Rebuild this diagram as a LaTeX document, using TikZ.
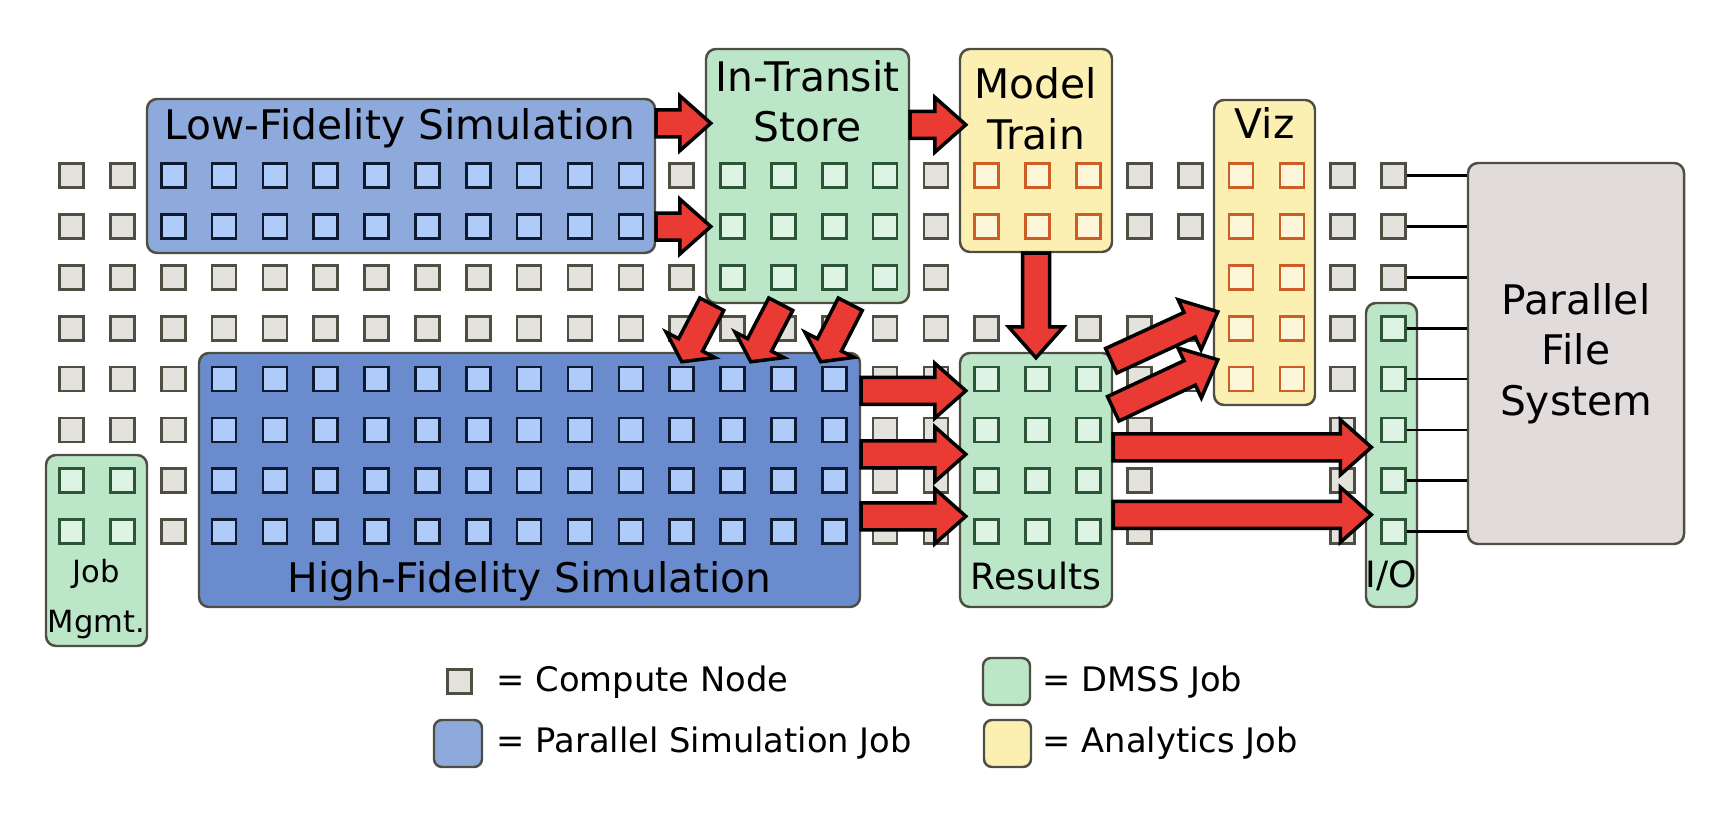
\documentclass[tikz,border=0pt]{standalone}
\usepackage{fontspec}
\setmainfont{DejaVu Sans}
\usetikzlibrary{calc,fit}

\definecolor{boxline}{HTML}{4E4E42}
\definecolor{lofifill}{HTML}{8EA9DB}
\definecolor{hififill}{HTML}{6A8BCD}
\definecolor{simsqfill}{HTML}{AFCBFA}
\definecolor{simsqline}{HTML}{0E1A30}
\definecolor{dmssfill}{HTML}{BBE6C8}
\definecolor{dmsssqfill}{HTML}{DDF3E3}
\definecolor{dmsssqline}{HTML}{2C5535}
\definecolor{anafill}{HTML}{FBF0B1}
\definecolor{anasqfill}{HTML}{FEF6D9}
\definecolor{anasqline}{HTML}{CD5C25}
\definecolor{cfill}{HTML}{E3E2DC}
\definecolor{pfsfill}{HTML}{E1DBDB}
\definecolor{arrowred}{HTML}{E93A33}

\newcommand{\titlefont}{\fontsize{11.6}{13}\selectfont}
\newcommand{\resfont}{\fontsize{10.3}{12}\selectfont}
\newcommand{\mgmtfont}{\fontsize{8.7}{10}\selectfont}
\newcommand{\legendfont}{\fontsize{9.6}{11}\selectfont}
\newcommand{\arrowshaft}{1.35mm}
\newcommand{\arrowhead}{2.75mm}

% fat red arrow from #2 to #3, #1 = head length
\newcommand{\fatarrow}[3][3.1mm]{%
  \coordinate (fa-t) at (#2);
  \coordinate (fa-p) at (#3);
  \coordinate (fa-h) at ($(fa-p)!#1!(fa-t)$);
  \draw[fatarrow] ($(fa-t)!\arrowshaft!90:(fa-p)$) -- ($(fa-h)!\arrowshaft!90:(fa-p)$)
    -- ($(fa-h)!\arrowhead!90:(fa-p)$) -- (fa-p) -- ($(fa-h)!\arrowhead!-90:(fa-p)$)
    -- ($(fa-h)!\arrowshaft!-90:(fa-p)$) -- ($(fa-t)!\arrowshaft!-90:(fa-p)$) -- cycle;}

\tikzset{
  jobbox/.style={draw=boxline, line width=0.7pt, rounded corners=1mm, inner sep=0pt},
  legbox/.style={draw=boxline, line width=0.7pt, rounded corners=0.8mm, inner sep=0pt},
  sq/.style={line width=0.75pt, minimum size=2.4mm, inner sep=0pt},
  cnode/.style={sq, draw=boxline, fill=cfill},
  simnode/.style={sq, draw=simsqline, fill=simsqfill},
  dmssnode/.style={sq, draw=dmsssqline, fill=dmsssqfill},
  ananode/.style={sq, draw=anasqline, fill=anasqfill},
  title/.style={font=\titlefont, inner sep=0pt, anchor=base},
  legtext/.style={font=\legendfont, inner sep=0pt, anchor=base west},
  fatarrow/.style={fill=arrowred, draw=black, line width=1pt, line join=miter},
  pfsline/.style={line width=0.8pt}
}

\begin{document}
\begin{tikzpicture}[x=0.1mm, y=-0.1mm]
\useasboundingbox (0,0) rectangle (1736,814);

% jobs
\node[jobbox, fill=lofifill, fit={(147,99) (655,253)}] (lofi) {};
\node[jobbox, fill=hififill, fit={(199,353) (860,607)}] (hifi) {};
\node[jobbox, fill=dmssfill, fit={(706,49) (909,303)}] (transit) {};
\node[jobbox, fill=anafill, fit={(960,49) (1112,252)}] (model) {};
\node[jobbox, fill=anafill, fit={(1214,100) (1315,405)}] (viz) {};
\node[jobbox, fill=dmssfill, fit={(960,353) (1112,607)}] (results) {};
\node[jobbox, fill=dmssfill, fit={(46,455) (147,646)}] (mgmt) {};
\node[jobbox, fill=dmssfill, fit={(1366,303) (1417,607)}] (io) {};
\node[jobbox, fill=pfsfill, fit={(1468,163) (1684,544)}] (pfs) {};

% compute nodes
\foreach \r/\cols in {0/{0,1,12,17,21,22,25,26}, 1/{0,1,12,17,21,22,25,26},
    2/{0,...,12,17,...,22,25,26}, 3/{0,...,22,25}, 4/{0,1,2,16,17,21,22,25},
    5/{0,1,2,16,17,21,...,25}, 6/{2,16,17,21,...,25}, 7/{2,16,17,21,...,25}}
  \foreach \c in \cols
    \node[cnode] (n\c-\r) at ({71.5+50.85*\c},{175.7+50.85*\r}) {};
\foreach \c in {2,...,11} \foreach \r in {0,1}
  \node[simnode] (n\c-\r) at ({71.5+50.85*\c},{175.7+50.85*\r}) {};
\foreach \c in {3,...,15} \foreach \r in {4,...,7}
  \node[simnode] (n\c-\r) at ({71.5+50.85*\c},{175.7+50.85*\r}) {};
\foreach \c in {13,...,16} \foreach \r in {0,1,2}
  \node[dmssnode] (n\c-\r) at ({71.5+50.85*\c},{175.7+50.85*\r}) {};
\foreach \c in {18,19,20} \foreach \r in {4,...,7}
  \node[dmssnode] (n\c-\r) at ({71.5+50.85*\c},{175.7+50.85*\r}) {};
\foreach \c/\r in {26/3,26/4,26/5,26/6,26/7,0/6,1/6,0/7,1/7}
  \node[dmssnode] (n\c-\r) at ({71.5+50.85*\c},{175.7+50.85*\r}) {};
\foreach \c in {18,19,20} \foreach \r in {0,1}
  \node[ananode] (n\c-\r) at ({71.5+50.85*\c},{175.7+50.85*\r}) {};
\foreach \c in {23,24} \foreach \r in {0,...,4}
  \node[ananode] (n\c-\r) at ({71.5+50.85*\c},{175.7+50.85*\r}) {};

% labels
\node[title] (lofitxt) at (400,140) {Low-Fidelity Simulation};
\node[title] (hifitxt) at (529.5,593) {High-Fidelity Simulation};
\node[title] (transittxt) at (807.5,91.7) {In-Transit};
\node[title] (storetxt) at (807.5,141.7) {Store};
\node[title] (modeltxt) at (1036,98.3) {Model};
\node[title] (traintxt) at (1036,149.3) {Train};
\node[title] (viztxt) at (1264.5,139) {Viz};
\node[title, font=\resfont] (resultstxt) at (1036,590) {Results};
\node[title, font=\resfont] (iotxt) at (1391.5,587.5) {I/O};
\node[title, font=\mgmtfont] (jobtxt) at (96.5,582.7) {Job};
\node[title, font=\mgmtfont] (mgmttxt) at (96.5,633) {Mgmt.};
\node[title] (pfstxt1) at (1576,315) {Parallel};
\node[title] (pfstxt2) at (1576,365) {File};
\node[title] (pfstxt3) at (1576,416) {System};

% links to the file system
\foreach \r in {0,...,7}
  \draw[pfsline] (n26-\r.east) -- (n26-\r -| pfs.west);

% data flow
\fatarrow{$(lofi.north east)+(0,25.5)$}{$(transit.north west)+(6,75.5)$}
\fatarrow{lofi.east |- n2-1}{$(transit.west |- n13-1)+(6,0)$}
\fatarrow{$(transit.north east)+(0,77)$}{$(model.north west)+(7,77)$}
\fatarrow[1.9mm]{$(transit.south west)+(7,0)$}{$(hifi.north west)+(484,10)$}
\fatarrow[1.9mm]{$(transit.south west)+(76,0)$}{$(hifi.north west)+(553,10)$}
\fatarrow[1.9mm]{$(transit.south west)+(145.5,0)$}{$(hifi.north west)+(623,10)$}
\fatarrow{model.south}{$(results.north)+(0,6)$}
\fatarrow{$(hifi.north east)+(0,39)$}{$(results.north west)+(7,39)$}
\fatarrow{$(hifi.north east)+(0,102.5)$}{$(results.north west)+(7,102.5)$}
\fatarrow{$(hifi.north east)+(0,164.5)$}{$(results.north west)+(7,164.5)$}
\fatarrow{$(results.north east)+(-2,9)$}{$(viz.north west)+(5,213)$}
\fatarrow{$(results.north east)+(0,57)$}{$(viz.north west)+(5,261)$}
\fatarrow{$(results.north east)+(0,95.5)$}{$(io.north west)+(6.6,145.5)$}
\fatarrow{$(results.north east)+(0,163)$}{$(io.north west)+(6.6,213)$}

% legend
\node[cnode] (legcompute) at (459.5,681.5) {};
\node[legtext] (legcomputetxt) at (496,692) {= Compute Node};
\node[legbox, fill=dmssfill, fit={(983,658) (1030,705)}] (legdmss) {};
\node[legtext] (legdmsstxt) at (1042,692) {= DMSS Job};
\node[legbox, fill=lofifill, fit={(434,720) (482,767)}] (legsim) {};
\node[legtext] (legsimtxt) at (496,753) {= Parallel Simulation Job};
\node[legbox, fill=anafill, fit={(984,720) (1031,767)}] (legana) {};
\node[legtext] (laganatxt) at (1042,753) {= Analytics Job};
\end{tikzpicture}
\end{document}
